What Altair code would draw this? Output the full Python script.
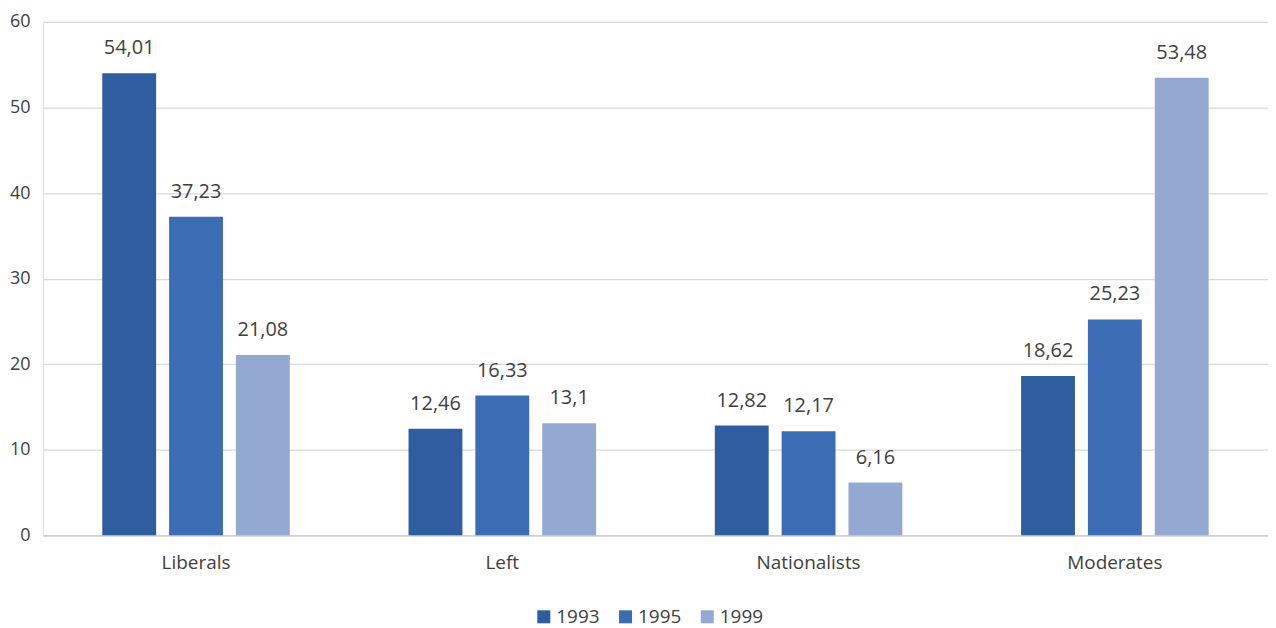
import altair as alt
import pandas as pd

categories = ["Liberals", "Left", "Nationalists", "Moderates"]
years = ["1993", "1995", "1999"]
v1993 = [54.01, 12.46, 12.82, 18.62]
v1995 = [37.23, 16.33, 12.17, 25.23]
v1999 = [21.08, 13.1, 6.16, 53.48]
labels1993 = ["54,01", "12,46", "12,82", "18,62"]
labels1995 = ["37,23", "16,33", "12,17", "25,23"]
labels1999 = ["21,08", "13,1", "6,16", "53,48"]
colors = ["#2E5E9F", "#3C6CB3", "#94A9D1"]

rows = []
for y, vals, labs in zip(years, [v1993, v1995, v1999], [labels1993, labels1995, labels1999]):
    for c, v, l in zip(categories, vals, labs):
        rows.append({"party": c, "year": y, "value": v, "label": l})
df = pd.DataFrame(rows)

FONT = "Open Sans"
TXT = "#404040"

x = alt.X("party:N", sort=categories, title=None,
          scale=alt.Scale(paddingInner=0, paddingOuter=0),
          axis=alt.Axis(labelAngle=0, ticks=False, domainColor="#d0d0d0", domainWidth=1.5,
                        labelFont=FONT, labelFontSize=19, labelColor=TXT, labelPadding=18))
xo = alt.XOffset("year:N", sort=years,
                 scale=alt.Scale(paddingInner=0.194, paddingOuter=0.888))
yenc = alt.Y("value:Q", title=None,
             scale=alt.Scale(domain=[0, 60], nice=False),
             axis=alt.Axis(values=[0, 10, 20, 30, 40, 50, 60], ticks=False, domain=False,
                           gridColor="#d9d9d9", gridWidth=1.3,
                           labelFont=FONT, labelFontSize=18, labelColor=TXT, labelPadding=13))
color = alt.Color("year:N", sort=years, title=None,
                  scale=alt.Scale(domain=years, range=colors),
                  legend=alt.Legend(orient="none", legendX=493, legendY=587,
                                    direction="horizontal", symbolType="square",
                                    symbolSize=170, symbolStrokeWidth=0, labelFont=FONT,
                                    labelFontSize=19, labelColor=TXT, columnPadding=16,
                                    labelOffset=3))

base = alt.Chart(df)
bars = base.mark_bar().encode(x=x, xOffset=xo, y=yenc, color=color)
text = base.mark_text(dy=-25, font=FONT, fontSize=20, color=TXT).encode(
    x=x, xOffset=xo, y=yenc, text="label:N")

chart = (bars + text).properties(
    width=1229, height=515,
    autosize=alt.AutoSizeParams(type="none"),
    padding={"left": 35, "top": 13, "right": 0, "bottom": 92},
).configure_view(stroke=None).configure(background="white")

chart.save("out.html", embed_options={"renderer": "svg", "actions": False})
